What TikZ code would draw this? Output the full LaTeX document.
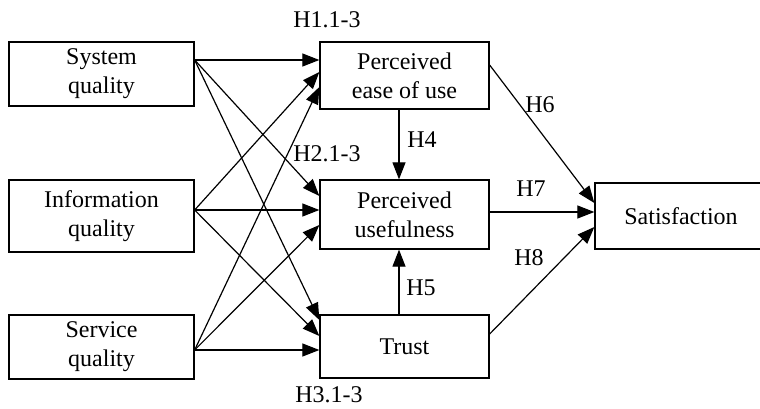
\documentclass[tikz,border=0pt]{standalone}
\usepackage{fontspec}
\setmainfont{Liberation Serif}
\usetikzlibrary{arrows.meta,calc}
\begin{document}
\begin{tikzpicture}[x=1pt,y=-1pt,
  box/.style={draw, line width=1.3pt, rectangle, align=center, inner sep=0pt, font=\fontsize{24}{29}\selectfont},
  lbl/.style={font=\fontsize{24}{28}\selectfont, inner sep=0pt},
  arr/.style={line width=1.2pt, -{Triangle[length=17pt,width=13pt]}}]
\useasboundingbox (0,0) rectangle (760,409);
\fill[white] (0,0) rectangle (760,409);
% left column
\node[box, minimum width=185pt, minimum height=64pt] (sq) at (101.5,74) {System\\quality};
\node[box, minimum width=185pt, minimum height=72pt] (iq) at (101.5,216) {Information\\quality};
\node[box, minimum width=185pt, minimum height=64pt] (svq) at (101.5,347) {Service\\quality};
% middle column
\node[box, minimum width=169pt, minimum height=67pt] (peou) at (404.5,75.5) {Perceived\\ease of use};
\node[box, minimum width=169pt, minimum height=69pt] (pu) at (404.5,214.5) {Perceived\\usefulness};
\node[box, minimum width=169pt, minimum height=63pt] (tr) at (404.5,346.5) {Trust};
% right
\node[box, minimum width=172pt, minimum height=66pt] (sat) at (681,216) {Satisfaction};
% labels
\node[lbl] (h1) at (327,20) {H1.1-3};
\node[lbl] (h2) at (327,154) {H2.1-3};
\node[lbl] (h3) at (329,395) {H3.1-3};
\node[lbl] (h4) at (422,140) {H4};
\node[lbl] (h5) at (421,288) {H5};
\node[lbl] (h6) at (540,105) {H6};
\node[lbl] (h7) at (531,189) {H7};
\node[lbl] (h8) at (529,258) {H8};
% arrows from System quality
\draw[arr] ($(sq.east)+(0,-14)$) -- ($(peou.west)+(0,-15.5)$);
\draw[arr] ($(sq.east)+(0,-14)$) -- ($(pu.west)+(0,-18.5)$);
\draw[arr] ($(sq.east)+(0,-14)$) -- ($(tr.west)+(0,-26.5)$);
% arrows from Information quality
\draw[arr] ($(iq.east)+(0,-6)$) -- ($(peou.west)+(0,-3.5)$);
\draw[arr] ($(iq.east)+(0,-6)$) -- ($(pu.west)+(0,-4.5)$);
\draw[arr] ($(iq.east)+(0,-6)$) -- ($(tr.west)+(0,-10.5)$);
% arrows from Service quality
\draw[arr] ($(svq.east)+(0,3)$) -- ($(peou.west)+(0,11.5)$);
\draw[arr] ($(svq.east)+(0,3)$) -- ($(pu.west)+(0,10.5)$);
\draw[arr] ($(svq.east)+(0,3)$) -- ($(tr.west)+(0,3.5)$);
% middle verticals
\draw[arr] ($(peou.south)+(-5.5,0)$) -- ($(pu.north)+(-5.5,0)$);
\draw[arr] ($(tr.north)+(-5.5,0)$) -- ($(pu.south)+(-5.5,0)$);
% to satisfaction
\draw[arr] ($(peou.east)+(0,-10.5)$) -- ($(sat.west)+(0,-13)$);
\draw[arr] ($(pu.east)+(0,-2.5)$) -- ($(sat.west)+(0,-4)$);
\draw[arr] ($(tr.east)+(0,-12.5)$) -- ($(sat.west)+(0,11)$);
\end{tikzpicture}
\end{document}
